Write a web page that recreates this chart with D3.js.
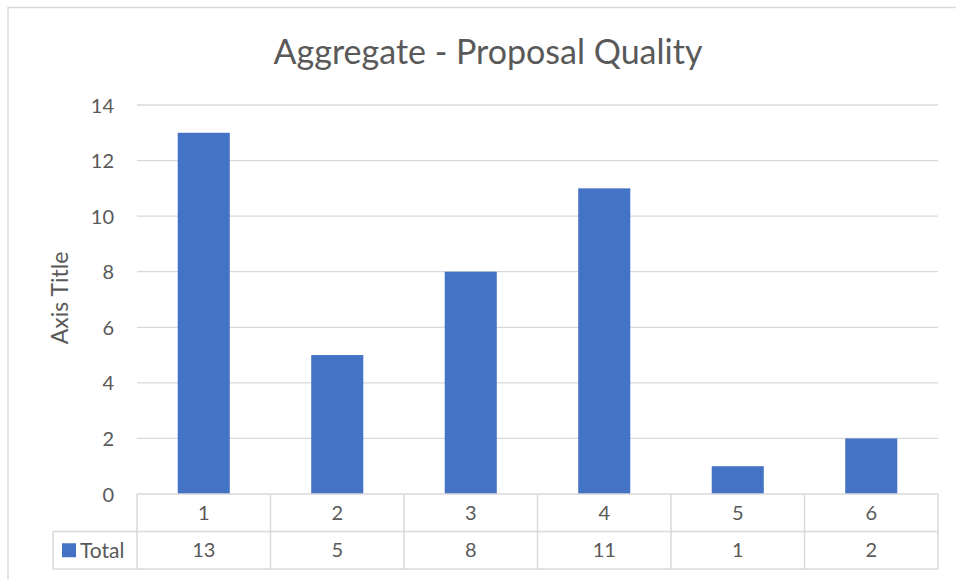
<!DOCTYPE html>
<html>
<head>
<meta charset="utf-8">
<script src="https://cdn.jsdelivr.net/npm/d3@7"></script>
<style>
  body { margin: 0; background: #fff; }
  svg text { font-family: "Lato", "Open Sans", sans-serif; fill: #595959; }
</style>
</head>
<body>
<div id="chart"></div>
<script>
// 데이터
var categories = ["1", "2", "3", "4", "5", "6"];
var totals = [13, 5, 8, 11, 1, 2];
var yTicks = [0, 2, 4, 6, 8, 10, 12, 14];
var seriesName = "Total";
var chartTitle = "Aggregate - Proposal Quality";
var yAxisTitle = "Axis Title";

var W = 956, H = 579;
var plot = {left: 137, right: 938, top: 105, bottom: 494};
var rowH = 37.5;

var svg = d3.select("#chart").append("svg")
	.attr("width", W).attr("height", H);

// 차트 테두리
svg.append("rect")
	.attr("x", 8).attr("y", 7.5)
	.attr("width", W + 10).attr("height", H + 10)
	.attr("fill", "none").attr("stroke", "#d9d9d9").attr("stroke-width", 1.5);

var x = d3.scaleBand().domain(categories).range([plot.left, plot.right]).paddingInner(0.61).paddingOuter(0.305);
var xCell = d3.scaleBand().domain(categories).range([plot.left, plot.right]);
var y = d3.scaleLinear().domain([0, 14]).range([plot.bottom, plot.top]);

// 그리드
svg.append("g")
	.selectAll("line").data(yTicks.filter(function (d) { return d > 0; }))
	.join("line")
	.attr("x1", plot.left).attr("x2", plot.right)
	.attr("y1", function (d) { return y(d); }).attr("y2", function (d) { return y(d); })
	.attr("stroke", "#d9d9d9").attr("stroke-width", 1.3);

// y축
var yAxis = svg.append("g")
	.attr("transform", "translate(" + (plot.left - 23) + ",0)")
	.call(d3.axisLeft(y).tickValues(yTicks).tickSize(0).tickPadding(0));
yAxis.select(".domain").remove();
yAxis.selectAll("text").style("font-size", "20px").attr("dy", "0.35em").attr("fill", "#595959");

// 막대
svg.append("g")
	.selectAll("rect").data(totals)
	.join("rect")
	.attr("x", function (d, i) { return x(categories[i]); })
	.attr("width", x.bandwidth())
	.attr("y", function (d) { return y(d); })
	.attr("height", function (d) { return y(0) - y(d); })
	.attr("fill", "#4472c4");

// 데이터 테이블
var grid = "#d9d9d9";
var tbl = svg.append("g").attr("stroke", grid).attr("stroke-width", 1.5).attr("fill", "none");
tbl.append("line").attr("x1", plot.left).attr("x2", plot.right).attr("y1", plot.bottom).attr("y2", plot.bottom);
tbl.append("line").attr("x1", 53).attr("x2", plot.right).attr("y1", plot.bottom + rowH).attr("y2", plot.bottom + rowH);
tbl.append("line").attr("x1", 53).attr("x2", plot.right).attr("y1", plot.bottom + 2 * rowH).attr("y2", plot.bottom + 2 * rowH);
tbl.append("line").attr("x1", 53).attr("x2", 53).attr("y1", plot.bottom + rowH).attr("y2", plot.bottom + 2 * rowH);
tbl.selectAll(".vline").data(categories.concat(["end"]))
	.join("line")
	.attr("x1", function (d, i) { return plot.left + i * xCell.bandwidth(); })
	.attr("x2", function (d, i) { return plot.left + i * xCell.bandwidth(); })
	.attr("y1", plot.bottom).attr("y2", plot.bottom + 2 * rowH);

svg.append("g").selectAll("text").data(categories)
	.join("text")
	.attr("x", function (d) { return xCell(d) + xCell.bandwidth() / 2; })
	.attr("y", plot.bottom + rowH / 2)
	.attr("dy", "0.35em").attr("text-anchor", "middle")
	.style("font-size", "20px")
	.text(function (d) { return d; });

svg.append("g").selectAll("text").data(totals)
	.join("text")
	.attr("x", function (d, i) { return xCell(categories[i]) + xCell.bandwidth() / 2; })
	.attr("y", plot.bottom + rowH * 1.5)
	.attr("dy", "0.35em").attr("text-anchor", "middle")
	.style("font-size", "20px")
	.text(function (d) { return d; });

// 범례 키
svg.append("rect").attr("x", 62).attr("y", plot.bottom + rowH * 1.5 - 7)
	.attr("width", 14).attr("height", 14).attr("fill", "#4472c4");
svg.append("text").attr("x", 80).attr("y", plot.bottom + rowH * 1.5)
	.attr("dy", "0.35em").style("font-size", "21px").text(seriesName);

// 제목
svg.append("text").attr("x", 488).attr("y", 52)
	.attr("dy", "0.35em").attr("text-anchor", "middle")
	.style("font-size", "34px").text(chartTitle);

svg.append("text")
	.attr("transform", "translate(60,298) rotate(-90)")
	.attr("dy", "0.35em").attr("text-anchor", "middle")
	.style("font-size", "23px").text(yAxisTitle);
</script>
</body>
</html>
